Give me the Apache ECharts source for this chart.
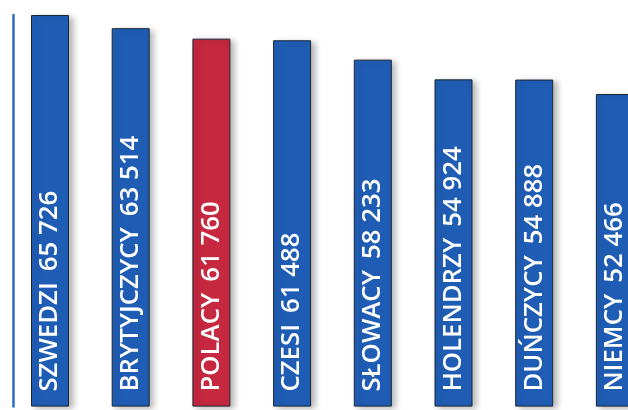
<!DOCTYPE html>
<html><head><meta charset="utf-8">
<script src="https://cdn.jsdelivr.net/npm/echarts@6/dist/echarts.min.js"></script>
<style>html,body{margin:0;padding:0;background:#fff}#c{width:628px;height:410px}</style>
</head><body><div id="c"></div>
<script>
const categories = ["SZWEDZI","BRYTYJCZYCY","POLACY","CZESI","SŁOWACY","HOLENDRZY","DUŃCZYCY","NIEMCY"];
const values = [65726, 63514, 61760, 61488, 58233, 54924, 54888, 52466];
const highlight = "POLACY";
const blue = "#1f5db5", red = "#c5283f";
const fmt = v => String(v).replace(/\B(?=(\d{3})+(?!\d))/g, " ");
const chart = echarts.init(document.getElementById('c'));
chart.setOption({
  backgroundColor: '#ffffff',
  animation: false,
  grid: { left: 9.65, top: 15, bottom: 3.4, width: 645.6, outerBoundsMode: 'none', containLabel: false },
  xAxis: { type: 'category', data: categories, axisLine: {show:false}, axisTick:{show:false}, axisLabel:{show:false} },
  yAxis: { type: 'value', min: 0, max: 'dataMax', offset: -3.5, splitLine:{show:false}, axisLabel:{show:false}, axisTick:{show:false},
    axisLine: { show: true, lineStyle: { color: '#2f6cc2', width: 2.5 } } },
  series: [{
    type: 'bar', barWidth: 38,
    data: values.map((v,i)=>({value:v, itemStyle:{color: categories[i]===highlight?red:blue}})),
    itemStyle: { borderColor: '#1b2633', borderWidth: 1, shadowBlur: 6, shadowOffsetX: 4, shadowOffsetY: 2, shadowColor: 'rgba(0,0,0,0.28)' },
    label: { show: true, position: 'insideBottom', rotate: 90, align: 'left', verticalAlign: 'middle', distance: 15,
      color: '#fff', fontFamily: 'Open Sans', fontWeight: 600, fontSize: 25.8,
      formatter: p => p.name + ' \u2009' + fmt(p.value) }
  }]
});
</script></body></html>
